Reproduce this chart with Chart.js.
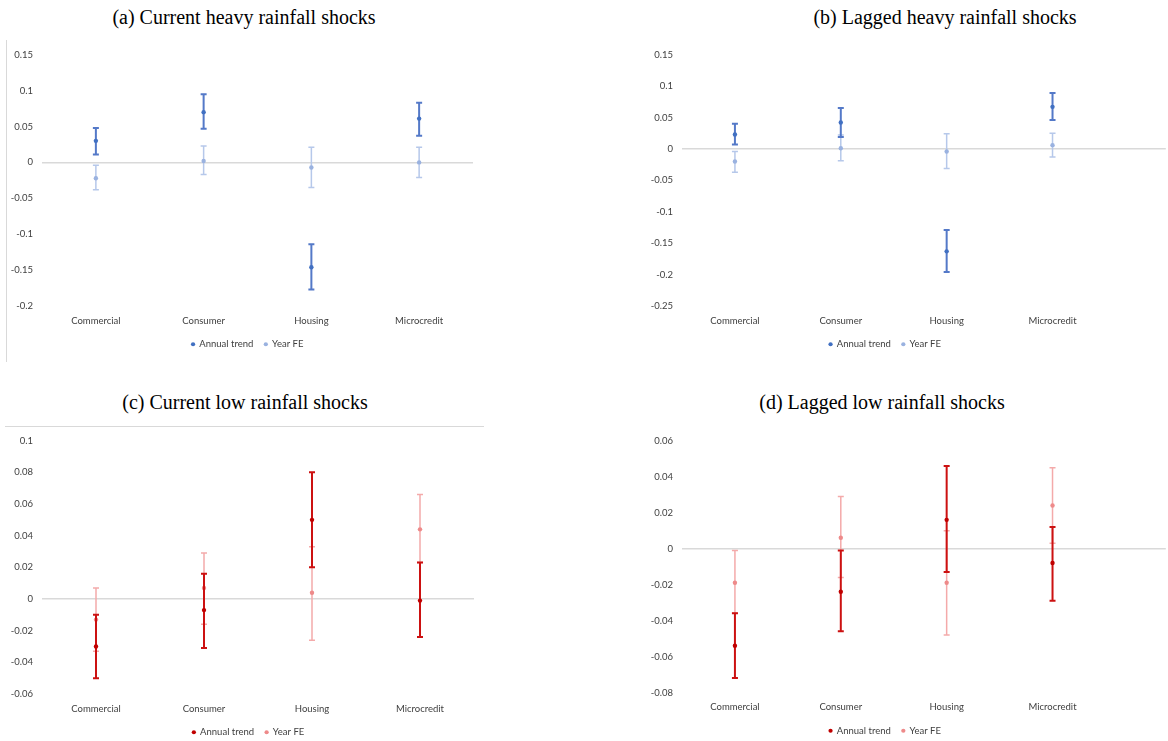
<!DOCTYPE html>
<html>
<head>
<meta charset="utf-8">
<script src="https://cdn.jsdelivr.net/npm/chart.js@4.4.1/dist/chart.umd.min.js"></script>
<style>
  body { margin: 0; width: 1168px; height: 741px; overflow: hidden; background: #fff; position: relative; }
  .title { position: absolute; font-family: 'Liberation Serif', serif; font-size: 20px; line-height: 24px; color: #000; white-space: nowrap; transform: translateX(-50%); }
  canvas { position: absolute; }
  .frame { position: absolute; }
</style>
</head>
<body>
<div class="title" style="left:244px; top:5px">(a) Current heavy rainfall shocks</div>
<div class="title" style="left:945px; top:5px">(b) Lagged heavy rainfall shocks</div>
<div class="title" style="left:245px; top:390px">(c) Current low rainfall shocks</div>
<div class="title" style="left:882px; top:390px">(d) Lagged low rainfall shocks</div>

<div class="frame" style="left:6px; top:40px; height:322px; border-left:1px solid #D9D9D9"></div>
<div class="frame" style="left:5px; top:426px; width:479px; border-top:1px solid #D9D9D9"></div>

<canvas id="chartA" width="478" height="322" style="left:6px; top:40px"></canvas>
<canvas id="chartB" width="566" height="322" style="left:602px; top:40px"></canvas>
<canvas id="chartC" width="478" height="324" style="left:6px; top:426px"></canvas>
<canvas id="chartD" width="566" height="322" style="left:602px; top:426px"></canvas>

<script>
const categories = ['Commercial', 'Consumer', 'Housing', 'Microcredit'];

// (a) current heavy rainfall shocks
const heavyNowTrend   = [0.030, 0.070, -0.146, 0.061];
const heavyNowTrendLo = [0.011, 0.047, -0.177, 0.037];
const heavyNowTrendHi = [0.048, 0.095, -0.114, 0.083];
const heavyNowFE      = [-0.022, 0.002, -0.007, 0.000];
const heavyNowFELo    = [-0.038, -0.017, -0.035, -0.021];
const heavyNowFEHi    = [-0.004, 0.023, 0.021, 0.021];

// (b) lagged heavy rainfall shocks
const heavyLagTrend   = [0.023, 0.042, -0.163, 0.067];
const heavyLagTrendLo = [0.007, 0.019, -0.196, 0.046];
const heavyLagTrendHi = [0.040, 0.065, -0.129, 0.089];
const heavyLagFE      = [-0.020, 0.001, -0.004, 0.006];
const heavyLagFELo    = [-0.037, -0.019, -0.031, -0.013];
const heavyLagFEHi    = [-0.004, 0.022, 0.024, 0.025];

// (c) current low rainfall shocks
const lowNowTrend   = [-0.030, -0.007, 0.050, -0.001];
const lowNowTrendLo = [-0.050, -0.031, 0.020, -0.024];
const lowNowTrendHi = [-0.010, 0.016, 0.080, 0.023];
const lowNowFE      = [-0.013, 0.007, 0.004, 0.044];
const lowNowFELo    = [-0.033, -0.016, -0.026, 0.023];
const lowNowFEHi    = [0.007, 0.029, 0.033, 0.066];

// (d) lagged low rainfall shocks
const lowLagTrend   = [-0.054, -0.024, 0.016, -0.008];
const lowLagTrendLo = [-0.072, -0.046, -0.013, -0.029];
const lowLagTrendHi = [-0.036, -0.001, 0.046, 0.012];
const lowLagFE      = [-0.019, 0.006, -0.019, 0.024];
const lowLagFELo    = [-0.036, -0.016, -0.048, 0.003];
const lowLagFEHi    = [-0.001, 0.029, 0.010, 0.045];

const textColor = '#404040';
const tickFont = {family: 'Lato', size: 9.5};

// whiskers drawn just before each dataset's points
const errorBars = {
    id: 'errorBars',
    beforeDatasetDraw(chart, args) {
        const ds = chart.data.datasets[args.index];
        const {ctx} = chart;
        const xs = chart.scales.x, ys = chart.scales.y;
        ctx.save();
        ctx.strokeStyle = ds.errColor;
        ctx.lineWidth = ds.errWidth;
        ds.errLo.forEach((lo, i) => {
            const px = xs.getPixelForValue(i);
            const y1 = ys.getPixelForValue(lo);
            const y2 = ys.getPixelForValue(ds.errHi[i]);
            ctx.beginPath();
            ctx.moveTo(px, y1); ctx.lineTo(px, y2);
            ctx.moveTo(px - 3, y1); ctx.lineTo(px + 3, y1);
            ctx.moveTo(px - 3, y2); ctx.lineTo(px + 3, y2);
            ctx.stroke();
        });
        ctx.restore();
    }
};

// excel centres the legend on the whole chart box, nudge it over
const legendShift = {
    id: 'legendShift',
    afterLayout(chart, args, opts) {
        const lg = chart.legend;
        if (!lg || !opts.dx) return;
        lg.left += opts.dx;
        lg.right += opts.dx;
    }
};

function toPoints(values) {
    return values.map((v, i) => ({x: i, y: v}));
}

function makePanel(id, p) {
    const ctx = document.getElementById(id).getContext('2d');
    return new Chart(ctx, {
        type: 'scatter',
        data: {
            datasets: [
                {
                    label: 'Annual trend',
                    data: toPoints(p.trend),
                    errLo: p.trendLo, errHi: p.trendHi,
                    errColor: p.darkBar, errWidth: 2,
                    backgroundColor: p.dark, borderColor: p.dark,
                    pointRadius: 2.2, pointHoverRadius: 2.2, borderWidth: 0
                },
                {
                    label: 'Year FE',
                    data: toPoints(p.fe),
                    errLo: p.feLo, errHi: p.feHi,
                    errColor: p.lightBar, errWidth: 1.5,
                    backgroundColor: p.light, borderColor: p.light,
                    pointRadius: 2.2, pointHoverRadius: 2.2, borderWidth: 0
                }
            ]
        },
        options: {
            responsive: false,
            animation: false,
            layout: {padding: p.pad},
            plugins: {
                legend: {
                    position: 'bottom',
                    labels: {
                        usePointStyle: true, pointStyle: 'circle',
                        boxWidth: 3, boxHeight: 3, padding: 11,
                        color: textColor, font: tickFont
                    }
                },
                legendShift: {dx: p.legendDx},
                tooltip: {enabled: false}
            },
            scales: {
                x: {
                    type: 'linear',
                    min: -0.5,
                    max: p.xMax,
                    afterBuildTicks: s => { s.ticks = categories.map((c, i) => ({value: i})); },
                    afterFit: s => { s.height = 22.5; },
                    grid: {display: false, drawTicks: false, tickLength: 0},
                    border: {display: false},
                    ticks: {
                        autoSkip: false, maxRotation: 0, padding: 9,
                        callback: v => categories[v],
                        color: textColor, font: tickFont
                    }
                },
                y: {
                    min: p.yMin,
                    max: p.yMax,
                    afterFit: s => { s.width = p.yWidth; },
                    grid: {
                        drawTicks: false,
                        tickLength: 0,
                        lineWidth: 1.5,
                        color: c => Math.abs(c.tick.value) < 1e-9 ? '#D9D9D9' : 'rgba(0,0,0,0)'
                    },
                    border: {display: false},
                    ticks: {
                        stepSize: p.step, padding: 9,
                        callback: v => String(parseFloat(v.toFixed(2))),
                        color: textColor, font: tickFont
                    }
                }
            }
        },
        plugins: [errorBars, legendShift]
    });
}

const blue = {dark: '#4170C2', darkBar: '#5479C8', light: '#9AB2E0', lightBar: '#B6C8EA'};
const red = {dark: '#C00000', darkBar: '#CC1111', light: '#EE8A8A', lightBar: '#F4AAAA'};

makePanel('chartA', Object.assign({
    trend: heavyNowTrend, trendLo: heavyNowTrendLo, trendHi: heavyNowTrendHi,
    fe: heavyNowFE, feLo: heavyNowFELo, feHi: heavyNowFEHi,
    yMin: -0.2, yMax: 0.15, step: 0.05, xMax: 3.5,
    yWidth: 36, legendDx: 8, pad: {left: 0, right: 11, top: 12.7, bottom: 3}
}, blue));

makePanel('chartB', Object.assign({
    trend: heavyLagTrend, trendLo: heavyLagTrendLo, trendHi: heavyLagTrendHi,
    fe: heavyLagFE, feLo: heavyLagFELo, feHi: heavyLagFEHi,
    yMin: -0.25, yMax: 0.15, step: 0.05, xMax: 4.07,
    yWidth: 80, legendDx: 0, pad: {left: 0, right: 0, top: 12.3, bottom: 3}
}, blue));

makePanel('chartC', Object.assign({
    trend: lowNowTrend, trendLo: lowNowTrendLo, trendHi: lowNowTrendHi,
    fe: lowNowFE, feLo: lowNowFELo, feHi: lowNowFEHi,
    yMin: -0.06, yMax: 0.1, step: 0.02, xMax: 3.5,
    yWidth: 36, legendDx: 8.3, pad: {left: 0, right: 10, top: 13.3, bottom: 3}
}, red));

makePanel('chartD', Object.assign({
    trend: lowLagTrend, trendLo: lowLagTrendLo, trendHi: lowLagTrendHi,
    fe: lowLagFE, feLo: lowLagFELo, feHi: lowLagFEHi,
    yMin: -0.08, yMax: 0.06, step: 0.02, xMax: 4.07,
    yWidth: 80, legendDx: 0, pad: {left: 0, right: 0, top: 12.7, bottom: 2.5}
}, red));
</script>
</body>
</html>
